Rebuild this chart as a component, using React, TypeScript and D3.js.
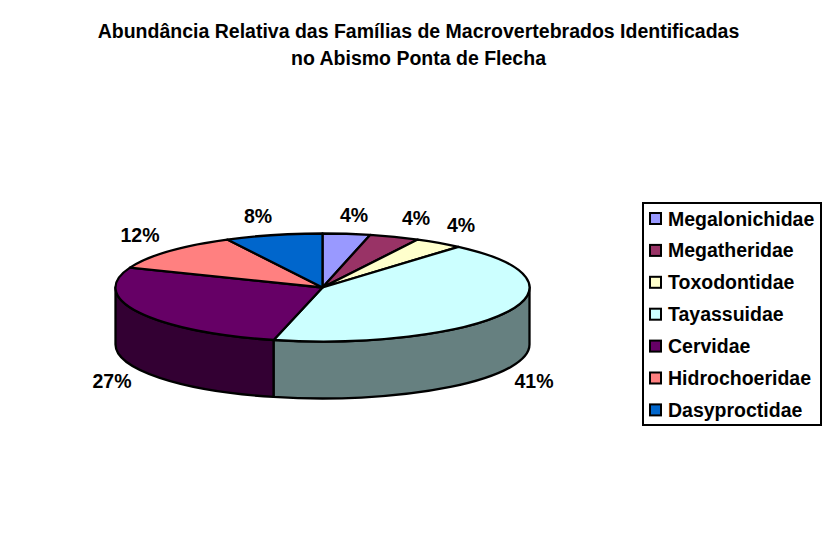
import React from "react";
import * as d3 from "d3";

const families = ["Megalonichidae", "Megatheridae", "Toxodontidae", "Tayassuidae", "Cervidae", "Hidrochoeridae", "Dasyproctidae"];
const shares = [3.7, 3.9, 3.8, 42.4, 27.2, 11.4, 7.6];
const percentLabels = ["4%", "4%", "4%", "41%", "27%", "12%", "8%"];
const topColors = ["#9999FF", "#993366", "#FFFFCC", "#CCFFFF", "#660066", "#FF8080", "#0066CC"];
const sideColors = ["#666699", "#662244", "#999980", "#668080", "#330033", "#995050", "#004488"];
const labelX = [354, 416, 461, 534, 112, 140, 258];
const labelY = [222, 225, 232, 388, 388, 242, 223];
const titleLines = ["Abundância Relativa das Famílias de Macrovertebrados Identificadas", "no Abismo Ponta de Flecha"];

const W = 834, H = 549;
const cx = 322.5, cy = 287.5, rx = 207, ry = 54, depth = 57;
const font = "'Liberation Sans', Arial, sans-serif";
const fs = 19.5;

export default function App() {
  const arcs = d3.pie<number>().sort(null)(shares);
  const unit = d3.arc<d3.PieArcDatum<number>>().innerRadius(0).outerRadius(1);
  const px = (a: number) => cx + rx * Math.sin(a);
  const py = (a: number) => cy - ry * Math.cos(a);

  const walls = arcs.map((d, i) => {
    const a0 = Math.max(d.startAngle, Math.PI / 2);
    const a1 = Math.min(d.endAngle, (3 * Math.PI) / 2);
    if (a1 <= a0) return null;
    const path = `M${px(a0)},${py(a0)}A${rx},${ry} 0 0 1 ${px(a1)},${py(a1)}L${px(a1)},${py(a1) + depth}A${rx},${ry} 0 0 0 ${px(a0)},${py(a0) + depth}Z`;
    return <path key={i} d={path} fill={sideColors[i]} stroke="#000" strokeWidth={2.3} strokeLinejoin="round" />;
  });

  return (
    <svg width={W} height={H} viewBox={`0 0 ${W} ${H}`} style={{ position: "absolute", left: 0, top: 0, background: "#fff" }} fontFamily={font} fontWeight="bold" fill="#000">
      {titleLines.map((t, i) => (
        <text key={i} x={418.5} y={37.5 + i * 27} textAnchor="middle" fontSize={fs}>{t}</text>
      ))}
      {walls}
      <g transform={`translate(${cx},${cy}) scale(${rx},${ry})`}>
        {arcs.map((d, i) => (
          <path key={i} d={unit(d) ?? ""} fill={topColors[i]} stroke="#000" strokeWidth={2.3} strokeLinejoin="round" vectorEffect="non-scaling-stroke" />
        ))}
      </g>
      {percentLabels.map((t, i) => (
        <text key={i} x={labelX[i]} y={labelY[i]} textAnchor="middle" fontSize={fs}>{t}</text>
      ))}
      <rect x={643} y={203} width={178} height={222} fill="#fff" stroke="#000" strokeWidth={2} />
      {families.map((f, i) => (
        <g key={f}>
          <rect x={650} y={213 + i * 31.9} width={11} height={11} fill={topColors[i]} stroke="#000" strokeWidth={2} />
          <text x={668} y={225.5 + i * 31.9} fontSize={fs}>{f}</text>
        </g>
      ))}
    </svg>
  );
}
